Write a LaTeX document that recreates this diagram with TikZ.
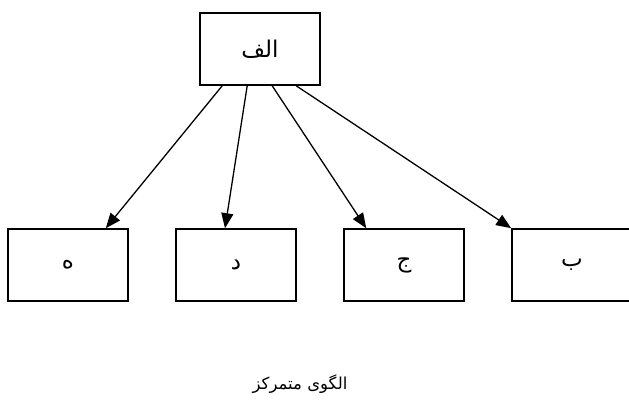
\documentclass[tikz,border=0pt]{standalone}
\usepackage{fontspec}
\newfontfamily\arabicfont[Script=Arabic]{DejaVu Sans}
\TeXXeTstate=1
\usetikzlibrary{arrows.meta}
\begin{document}
\begin{tikzpicture}[x=1pt,y=-1pt,
  box/.style={draw,line width=1.6pt,minimum width=120pt,minimum height=72pt,inner sep=0pt,font=\arabicfont\fontsize{23}{27}\selectfont},
  arr/.style={line width=1.3pt,-{Triangle[length=15pt,width=12pt]}}]
\clip (0,0) rectangle (629,414);
\fill[white] (0,0) rectangle (629,414);
\node[box] (a) at (260,49) {\beginR الف\endR};
\node[box] (e) at (68,265) {\beginR ه\endR};
\node[box] (d) at (236,265) {\beginR د\endR};
\node[box] (j) at (404,265) {\beginR ج\endR};
\node[box] (b) at (572,265) {\beginR ب\endR};
\draw[arr] ([xshift=23pt]a.south west) -- ([xshift=-23pt]e.north east);
\draw[arr] ([xshift=48pt]a.south west) -- ([xshift=-11pt]d.north);
\draw[arr] ([xshift=73pt]a.south west) -- ([xshift=23pt]j.north west);
\draw[arr] ([xshift=97pt]a.south west) -- (b.north west);
\node[font=\arabicfont\fontsize{16.5}{20}\selectfont] (cap) at (300,384) {\beginR الگوی متمرکز\endR};
\end{tikzpicture}
\end{document}
